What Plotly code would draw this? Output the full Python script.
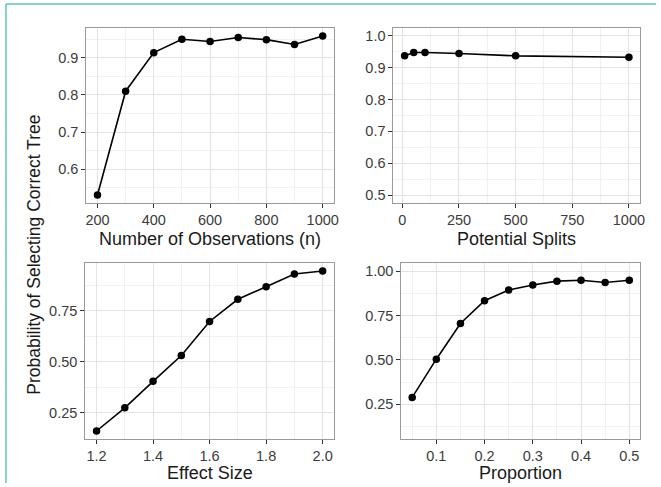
import plotly.graph_objects as go

W, H = 661, 487

# ---- data ----
n_obs = [200, 300, 400, 500, 600, 700, 800, 900, 1000]
p_obs = [0.530, 0.810, 0.914, 0.950, 0.944, 0.955, 0.949, 0.936, 0.959]

splits = [10, 50, 100, 250, 500, 1000]
p_splits = [0.9375, 0.948, 0.948, 0.945, 0.9375, 0.933]

effect = [1.2, 1.3, 1.4, 1.5, 1.6, 1.7, 1.8, 1.9, 2.0]
p_effect = [0.160, 0.274, 0.404, 0.531, 0.698, 0.807, 0.869, 0.931, 0.946]

prop = [0.05, 0.10, 0.15, 0.20, 0.25, 0.30, 0.35, 0.40, 0.45, 0.50]
p_prop = [0.289, 0.504, 0.705, 0.833, 0.893, 0.921, 0.943, 0.948, 0.935, 0.948]

x_titles = ["Number of Observations (n)", "Potential Splits", "Effect Size", "Proportion"]
y_title = "Probability of Selecting Correct Tree"


def expand(lo, hi, f=0.05):
    d = (hi - lo) * f
    return [lo - d, hi + d]


# panel boxes in pixels: (x0, x1, ytop, ybottom)
boxes = [(86, 336, 28, 203), (396, 645, 28, 203), (85, 336, 263, 439), (404, 645, 263, 439)]

series = [
    (n_obs, p_obs, expand(min(n_obs), max(n_obs)), expand(min(p_obs), max(p_obs)),
     dict(tick0=0, dtick=200, tickformat="d"), dict(tick0=0, dtick=0.1, tickformat=".1f"), 100, 0.05),
    (splits, p_splits, expand(min(splits), max(splits)), expand(0.5, 1.0),
     dict(tick0=0, dtick=250, tickformat="d"), dict(tick0=0, dtick=0.1, tickformat=".1f"), 125, 0.05),
    (effect, p_effect, expand(min(effect), max(effect)), expand(min(p_effect), max(p_effect)),
     dict(tick0=0, dtick=0.2, tickformat=".1f"), dict(tick0=0, dtick=0.25, tickformat=".2f"), 0.1, 0.125),
    (prop, p_prop, expand(min(prop), max(prop)), expand(0.1, 1.0),
     dict(tick0=0, dtick=0.1, tickformat=".1f"), dict(tick0=0, dtick=0.25, tickformat=".2f"), 0.05, 0.125),
]

FONT = "Liberation Sans, Arial, sans-serif"
GRID_MAJOR = "#e3e3e3"
GRID_MINOR = "#f1f1f1"
BORDER = "#9a9a9a"
TICKC = "#333333"

fig = go.Figure()
layout = {}
annotations = []

for i, (box, (xs, ys, xr, yr, xt, yt, xminor, yminor)) in enumerate(zip(boxes, series)):
    k = "" if i == 0 else str(i + 1)
    fig.add_trace(go.Scatter(
        x=xs, y=ys, mode="lines+markers",
        line=dict(color="black", width=1.6),
        marker=dict(color="black", size=7.5),
        xaxis="x" + k, yaxis="y" + k, showlegend=False, hoverinfo="x+y"))
    x0, x1, yt0, yb0 = box
    common = dict(showline=True, mirror=True, linecolor=BORDER, linewidth=1,
                  showgrid=True, gridcolor=GRID_MAJOR, gridwidth=1, zeroline=False,
                  ticks="outside", ticklen=4, tickwidth=1, tickcolor=TICKC,
                  tickfont=dict(family=FONT, size=14.5, color="#3c3c3c"))
    layout["xaxis" + k] = dict(
        domain=[x0 / W, x1 / W], anchor="y" + k, range=xr,
        minor=dict(dtick=xminor, tick0=0, showgrid=True, gridcolor=GRID_MINOR, ticks=""),
        **xt, **common)
    layout["yaxis" + k] = dict(
        domain=[1 - yb0 / H, 1 - yt0 / H], anchor="x" + k, range=yr,
        minor=dict(dtick=yminor, tick0=0, showgrid=True, gridcolor=GRID_MINOR, ticks=""),
        **yt, **common)
    ty = 227 if i < 2 else 461
    annotations.append(dict(
        text=x_titles[i], x=(x0 + x1) / 2 / W, y=1 - ty / H, xref="paper", yref="paper",
        xanchor="center", yanchor="top", showarrow=False,
        font=dict(family=FONT, size=18, color="#1a1a1a")))

annotations.append(dict(
    text=y_title, x=33 / W, y=1 - 255 / H, xref="paper", yref="paper",
    xanchor="center", yanchor="middle", showarrow=False, textangle=-90,
    font=dict(family=FONT, size=17.5, color="#1a1a1a")))

TEAL = "#5cc6b4"
shapes = [
    dict(type="line", xref="paper", yref="paper", x0=5 / W, x1=1, y0=1 - 4 / H, y1=1 - 4 / H,
         line=dict(color=TEAL, width=1.5)),
    dict(type="line", xref="paper", yref="paper", x0=5 / W, x1=5 / W, y0=1 - 4 / H, y1=1 - 483 / H,
         line=dict(color=TEAL, width=1.5)),
]

fig.update_layout(
    width=W, height=H, margin=dict(l=0, r=0, t=0, b=0),
    paper_bgcolor="white", plot_bgcolor="white",
    annotations=annotations, shapes=shapes, **layout)

fig.write_html("out.html")
